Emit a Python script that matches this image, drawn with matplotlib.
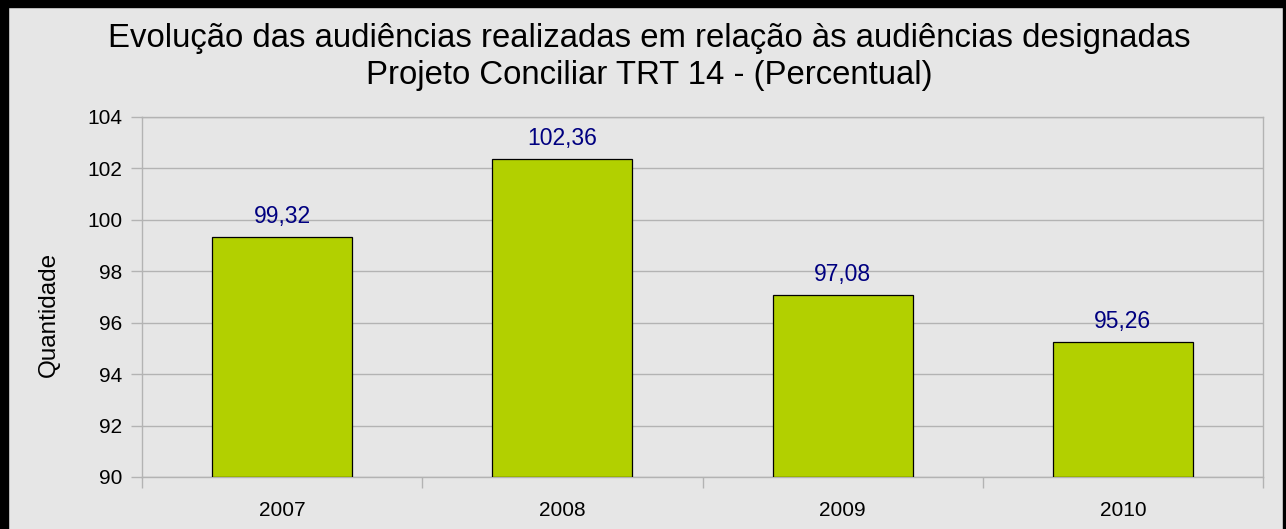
import matplotlib.pyplot as plt
from matplotlib.patches import Rectangle

# data
years = ['2007', '2008', '2009', '2010']
values = [99.32, 102.36, 97.08, 95.26]
labels = ['99,32', '102,36', '97,08', '95,26']

plt.rcParams['font.family'] = ['Liberation Sans', 'DejaVu Sans']

bg = '#e6e6e6'
grid_c = '#b3b3b3'
bar_c = '#b2d000'

fig = plt.figure(figsize=(12.86, 5.29), dpi=100, facecolor=bg)
ax = fig.add_axes([142/1286, 1 - 477/529, (1263 - 142)/1286, (477 - 117)/529])
ax.set_facecolor(bg)

x = range(len(years))
bars = ax.bar(x, [v - 90 for v in values], bottom=90, width=0.5,
              color=bar_c, edgecolor='black', linewidth=0.9, zorder=3)

for xi, v, lab in zip(x, values, labels):
    ax.annotate(lab, (xi, v), xytext=(0, 6.5), textcoords='offset points',
                ha='center', va='bottom', fontsize=16.5, color='#000080')

ax.set_xlim(-0.5, 3.5)
ax.set_ylim(90, 104)
ax.set_yticks(range(90, 105, 2))
ax.yaxis.grid(True, color=grid_c, linewidth=1.0, zorder=0)
ax.set_axisbelow(True)

ax.set_xticks(list(x))
ax.set_xticklabels(years, fontsize=15)
ax.set_xticks([-0.5, 0.5, 1.5, 2.5, 3.5], minor=True)
ax.tick_params(axis='x', which='major', length=0, pad=17)
ax.tick_params(axis='x', which='minor', length=8, width=1.0, color=grid_c, direction='out')
ax.tick_params(axis='y', length=8, width=1.0, color=grid_c, labelsize=15, pad=6)

for s in ax.spines.values():
    s.set_color(grid_c)
    s.set_linewidth(1.0)

ax.set_ylabel('Quantidade', fontsize=17.5)
ax.yaxis.set_label_coords(-(142 - 60)/1121, (477 - 314)/360)

fig.text(649/1286, 1 - 47/529, 'Evolução das audiências realizadas em relação às audiências designadas',
         ha='center', va='baseline', fontsize=23.7)
fig.text(649/1286, 1 - 84/529, 'Projeto Conciliar TRT 14 - (Percentual)',
         ha='center', va='baseline', fontsize=23.7)

# outer black frame (top, left, right edges)
fig.patches.append(Rectangle((0, 1 - 7/529), 1, 7/529, transform=fig.transFigure,
                             color='black', zorder=10))
fig.patches.append(Rectangle((0, 0), 8/1286, 1, transform=fig.transFigure,
                             color='black', zorder=10))
fig.patches.append(Rectangle((1 - 3/1286, 0), 3/1286, 1, transform=fig.transFigure,
                             color='black', zorder=10))

fig.savefig('out.png', dpi=100, facecolor=bg)
